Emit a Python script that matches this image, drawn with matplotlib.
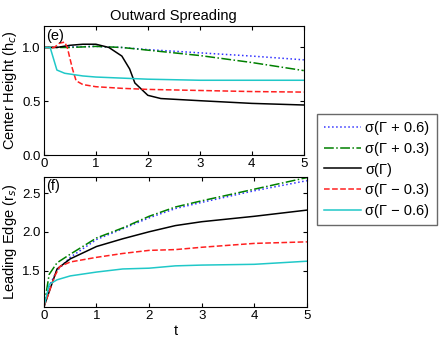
import matplotlib
matplotlib.use('Agg')
import matplotlib.pyplot as plt

plt.rcParams['font.family'] = ['Liberation Sans', 'DejaVu Sans']

labels = ['σ(Γ + 0.6)', 'σ(Γ + 0.3)', 'σ(Γ)', 'σ(Γ − 0.3)', 'σ(Γ − 0.6)']
colors = ['#3333ff', '#008000', 'black', '#ff2020', '#20c8c8']
styles = [':', '-.', '-', '--', '-']

# (e) center height
h_t = [
    [0, 1, 1.5, 2, 3, 4, 5],
    [0, 0.5, 1, 1.5, 2, 3, 4, 5],
    [0, 0.25, 0.5, 0.75, 1.0, 1.25, 1.5, 1.65, 1.75, 2.0, 2.25, 3, 4, 5],
    [0, 0.2, 0.3, 0.4, 0.45, 0.55, 0.62, 0.75, 1, 1.5, 2, 3, 4, 5],
    [0, 0.12, 0.25, 0.4, 0.75, 1, 1.5, 2, 3, 5],
]
h_val = [
    [1.0, 1.01, 1.0, 0.98, 0.95, 0.92, 0.885],
    [1.0, 1.0, 1.01, 1.0, 0.975, 0.925, 0.86, 0.785],
    [1.0, 1.0, 1.02, 1.03, 1.03, 1.0, 0.92, 0.8, 0.67, 0.555, 0.525, 0.505, 0.48, 0.465],
    [1.0, 1.0, 1.04, 1.05, 1.0, 0.8, 0.69, 0.655, 0.635, 0.62, 0.61, 0.6, 0.59, 0.585],
    [1.0, 1.0, 0.79, 0.76, 0.735, 0.725, 0.715, 0.705, 0.695, 0.695],
]

# (f) leading edge
r_t = [
    [0, 0.1, 0.25, 0.5, 1, 1.5, 2, 2.5, 3, 4, 5],
    [0, 0.1, 0.25, 0.5, 1, 1.5, 2, 2.5, 3, 4, 5],
    [0, 0.25, 0.5, 1, 1.5, 2, 2.5, 3, 4, 5],
    [0, 0.2, 0.3, 0.5, 1, 1.5, 2, 2.5, 3, 4, 5],
    [0, 0.1, 0.25, 0.5, 1, 1.5, 2, 2.5, 3, 4, 5],
]
r_val = [
    [1.03, 1.3, 1.5, 1.67, 1.9, 2.04, 2.18, 2.3, 2.38, 2.53, 2.66],
    [1.03, 1.45, 1.6, 1.71, 1.92, 2.05, 2.2, 2.32, 2.4, 2.55, 2.7],
    [1.03, 1.52, 1.65, 1.81, 1.91, 2.0, 2.08, 2.13, 2.2, 2.28],
    [1.03, 1.42, 1.55, 1.61, 1.67, 1.72, 1.76, 1.77, 1.8, 1.85, 1.87],
    [1.03, 1.32, 1.38, 1.43, 1.48, 1.52, 1.53, 1.56, 1.57, 1.58, 1.62],
]

fig = plt.figure(figsize=(4.48, 3.46), dpi=100)
ax1 = fig.add_axes([0.098, 0.552, 0.580, 0.373])
ax2 = fig.add_axes([0.098, 0.113, 0.587, 0.376])

lines = []
for i in range(5):
    ln, = ax1.plot(h_t[i], h_val[i], color=colors[i], linestyle=styles[i], linewidth=1.1)
    ax2.plot(r_t[i], r_val[i], color=colors[i], linestyle=styles[i], linewidth=1.1)
    lines.append(ln)

for ax in (ax1, ax2):
    ax.set_xlim(0, 5)
    ax.set_xticks([0, 1, 2, 3, 4, 5])
    ax.tick_params(direction='in', top=True, right=True, labelsize=9.5, length=3, pad=2.5)

ax1.set_ylim(0, 1.2)
ax1.set_yticks([0, 0.5, 1.0])
ax1.set_yticklabels(['0.0', '0.5', '1.0'])
ax1.set_ylabel('Center Height (h$_c$)', fontsize=10.5, labelpad=2)
ax1.set_title('Outward Spreading', fontsize=10.5, pad=4)
ax1.text(0.01, 0.98, '(e)', transform=ax1.transAxes, va='top', ha='left', fontsize=10.5)

ax2.set_ylim(1.03, 2.71)
ax2.set_yticks([1.5, 2.0, 2.5])
ax2.set_yticklabels(['1.5', '2.0', '2.5'])
ax2.set_ylabel('Leading Edge (r$_s$)', fontsize=10.5, labelpad=2)
ax2.set_xlabel('t', fontsize=10.5, labelpad=1)
ax2.text(0.01, 0.98, '(f)', transform=ax2.transAxes, va='top', ha='left', fontsize=10.5)

fig.legend(lines, labels, loc='upper left', bbox_to_anchor=(0.708, 0.67),
           fontsize=10.5, frameon=True, fancybox=False, edgecolor='#444444',
           borderaxespad=0, borderpad=0.5, handlelength=2.5, handletextpad=0.3,
           labelspacing=0.45)

fig.savefig('out.png', dpi=100)
